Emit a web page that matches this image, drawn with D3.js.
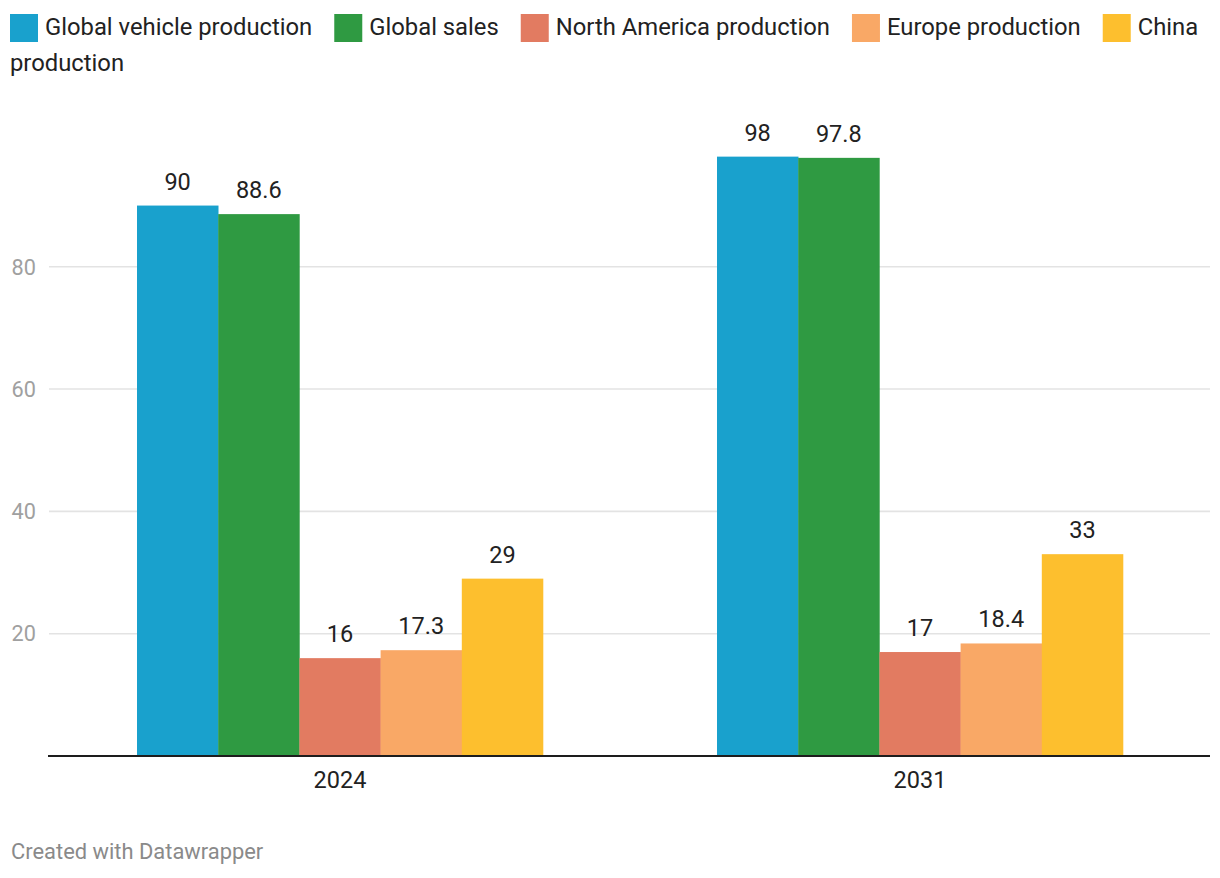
<!DOCTYPE html>
<html>
<head>
<meta charset="utf-8">
<script src="https://cdn.jsdelivr.net/npm/d3@7"></script>
<style>
  html, body { margin: 0; padding: 0; background: #fff; }
  svg { display: block; font-family: Roboto, "Noto Sans", sans-serif; }
</style>
</head>
<body>
<svg id="chart" width="1220" height="878"></svg>
<script>
// ---- Data ----
const categories = ["2024", "2031"];
const seriesNames = ["Global vehicle production", "Global sales", "North America production", "Europe production", "China production"];
const seriesColors = ["#19a1cd", "#2f9a42", "#e27b61", "#f9a866", "#fdbf2e"];
const values2024 = [90, 88.6, 16, 17.3, 29];
const values2031 = [98, 97.8, 17, 18.4, 33];
const yTicks = [20, 40, 60, 80];
const footerText = "Created with Datawrapper";

const valuesByCategory = [values2024, values2031];

const svg = d3.select("#chart");

// ---- Scales ----
const plotLeft = 50, plotRight = 1210;
const y = d3.scaleLinear().domain([0, 100]).range([756, 144.4]);
const x0 = d3.scaleBand().domain(categories).range([plotLeft, plotRight])
  .paddingInner(0.3).paddingOuter(0.15);
const x1 = d3.scaleBand().domain(seriesNames).range([0, x0.bandwidth()]).padding(0);
const color = d3.scaleOrdinal().domain(seriesNames).range(seriesColors);

// ---- Gridlines & y tick labels ----
const grid = svg.append("g");
grid.selectAll("line").data(yTicks).join("line")
  .attr("x1", 49).attr("x2", 1210)
  .attr("y1", d => y(d)).attr("y2", d => y(d))
  .attr("stroke", "#e3e3e3").attr("stroke-width", 1.6);
grid.selectAll("text").data(yTicks).join("text")
  .attr("x", 36).attr("y", d => y(d)).attr("dy", "0.36em")
  .attr("text-anchor", "end")
  .attr("fill", "#a0a0a0").attr("font-size", "21.7px")
  .text(d => d);

// ---- Bars ----
const groups = svg.append("g").selectAll("g").data(categories).join("g")
  .attr("transform", d => `translate(${x0(d)},0)`);

groups.selectAll("rect")
  .data((c, i) => seriesNames.map((s, j) => ({ s, v: valuesByCategory[i][j] })))
  .join("rect")
  .attr("x", d => x1(d.s))
  .attr("width", x1.bandwidth() + 0.3)
  .attr("y", d => y(d.v))
  .attr("height", d => y(0) - y(d.v))
  .attr("fill", d => color(d.s));

groups.selectAll("text.val")
  .data((c, i) => seriesNames.map((s, j) => ({ s, v: valuesByCategory[i][j] })))
  .join("text").attr("class", "val")
  .attr("x", d => x1(d.s) + x1.bandwidth() / 2)
  .attr("y", d => y(d.v) - 16)
  .attr("text-anchor", "middle")
  .attr("fill", "#222").attr("font-size", "23.5px")
  .text(d => d.v);

// ---- X axis ----
svg.append("line")
  .attr("x1", 48).attr("x2", 1210)
  .attr("y1", y(0)).attr("y2", y(0))
  .attr("stroke", "#1d1d1d").attr("stroke-width", 2);

svg.append("g").selectAll("text").data(categories).join("text")
  .attr("x", d => x0(d) + x0.bandwidth() / 2)
  .attr("y", 788)
  .attr("text-anchor", "middle")
  .attr("fill", "#222").attr("font-size", "23.5px")
  .text(d => d);

// ---- Legend (flowing, wraps words) ----
const legend = svg.append("g");
const legendFont = "23.8px";
const legendLeft = 10, legendMax = 1212, lineH = 36, sq = 28;
let lx = legendLeft, line = 0;
const baseY = 34.5;
const measure = legend.append("text").attr("font-size", legendFont).attr("visibility", "hidden");
function tw(s) { measure.text(s); return measure.node().getComputedTextLength(); }

seriesNames.forEach((name, i) => {
  if (lx + sq + 7 + tw(name.split(" ")[0]) > legendMax) { line++; lx = legendLeft; }
  legend.append("rect")
    .attr("x", lx).attr("y", 14 + line * lineH)
    .attr("width", sq).attr("height", sq)
    .attr("fill", color(name));
  lx += sq + 7;
  const words = name.split(" ");
  let cur = "", curX = lx;
  words.forEach((w) => {
    const trial = cur ? cur + " " + w : w;
    if (curX + tw(trial) > legendMax && cur) {
      legend.append("text").attr("x", curX).attr("y", baseY + line * lineH)
        .attr("font-size", legendFont).attr("fill", "#222").text(cur);
      line++; curX = legendLeft; cur = w;
    } else {
      cur = trial;
    }
  });
  legend.append("text").attr("x", curX).attr("y", baseY + line * lineH)
    .attr("font-size", legendFont).attr("fill", "#222").text(cur);
  lx = curX + tw(cur) + 22;
});
measure.remove();

// ---- Footer ----
svg.append("text")
  .attr("x", 11).attr("y", 859)
  .attr("fill", "#8a8a8a").attr("font-size", "21.9px")
  .text(footerText);
</script>
</body>
</html>
